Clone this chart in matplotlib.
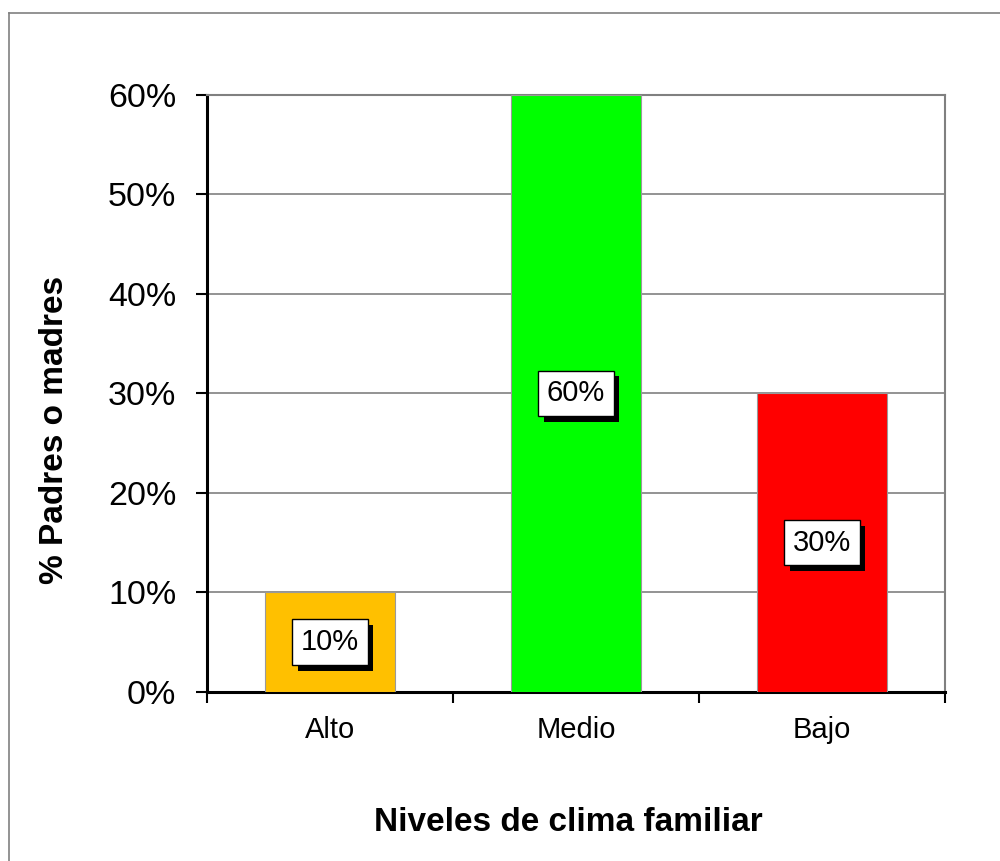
import matplotlib
matplotlib.use('Agg')
import matplotlib.pyplot as plt
import matplotlib.patheffects as pe
from matplotlib.lines import Line2D

plt.rcParams['font.family'] = ['Liberation Sans', 'DejaVu Sans']

# Data
categories = ['Alto', 'Medio', 'Bajo']
values = [10, 60, 30]
bar_colors = ['#FFC000', '#00FF00', '#FF0000']
yticks = [0, 10, 20, 30, 40, 50, 60]
ytick_labels = ['0%', '10%', '20%', '30%', '40%', '50%', '60%']

fig = plt.figure(figsize=(10, 8.61), dpi=100)
ax = fig.add_axes([0.207, 0.1963, 0.738, 0.6934])

x = list(range(len(categories)))
ax.bar(x, values, width=0.53, color=bar_colors, edgecolor='#9a9a9a', linewidth=0.8, zorder=3)

# Axis limits and grid
ax.set_xlim(-0.5, 2.5)
ax.set_ylim(0, 60)
ax.set_yticks(yticks)
ax.set_yticklabels(ytick_labels, fontsize=24.5)
ax.yaxis.grid(True, color='#808080', linewidth=1.2, zorder=0)
ax.set_axisbelow(True)

# x ticks at category boundaries, labels at centers
ax.set_xticks([-0.5, 0.5, 1.5, 2.5])
ax.set_xticklabels([])
ax.set_xticks(x, minor=True)
ax.set_xticklabels(categories, minor=True, fontsize=21)
ax.tick_params(axis='x', which='major', direction='out', length=8, width=1.5, color='black')
ax.tick_params(axis='x', which='minor', length=0, pad=17)
ax.tick_params(axis='y', direction='out', length=8, width=1.5, color='black', pad=14)

for side in ['top', 'right']:
    ax.spines[side].set_color('#808080')
    ax.spines[side].set_linewidth(1.5)
for side in ['left', 'bottom']:
    ax.spines[side].set_color('black')
    ax.spines[side].set_linewidth(2.2)

ax.set_ylabel('% Padres o madres', fontsize=24, fontweight='bold', va='center')
ax.yaxis.set_label_coords(-0.206, 0.439)
ax.set_xlabel('Niveles de clima familiar', fontsize=24, fontweight='bold', va='center')
ax.xaxis.set_label_coords(0.489, -0.219)

# Value labels in white boxes with a black drop shadow
for xi, v in zip(x, values):
    t = ax.annotate(f'{v}%', (xi, v / 2), ha='center', va='center', fontsize=21,
                    color='black', zorder=5,
                    bbox=dict(boxstyle='square,pad=0.3', fc='white', ec='black', lw=1))
    t.get_bbox_patch().set_path_effects([
        pe.SimplePatchShadow(offset=(4, -4), shadow_rgbFace='black', alpha=1.0),
        pe.Normal()])

# Outer chart frame (only left and top edges visible)
fx = 8.5 / 1000
fy = 1 - 12.5 / 861
fig.add_artist(Line2D([fx, fx], [0, fy], transform=fig.transFigure, color='#808080', lw=1.2))
fig.add_artist(Line2D([fx, 1], [fy, fy], transform=fig.transFigure, color='#808080', lw=1.2))

fig.savefig('out.png', dpi=100)
